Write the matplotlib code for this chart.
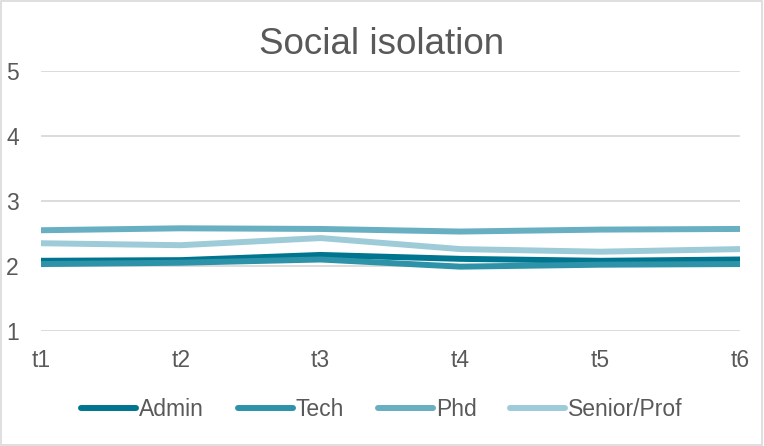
import matplotlib.pyplot as plt
from matplotlib.patches import Rectangle

times = ["t1", "t2", "t3", "t4", "t5", "t6"]
admin = [2.08, 2.09, 2.17, 2.11, 2.08, 2.10]
tech = [2.03, 2.05, 2.10, 1.99, 2.02, 2.03]
phd = [2.55, 2.58, 2.57, 2.53, 2.56, 2.57]
senior = [2.35, 2.32, 2.43, 2.26, 2.22, 2.26]

series = [
    ("Admin", admin, "#00758f"),
    ("Tech", tech, "#2e93a8"),
    ("Phd", phd, "#68afc1"),
    ("Senior/Prof", senior, "#9ecbd8"),
]

plt.rcParams["font.family"] = ["Liberation Sans", "DejaVu Sans"]

fig = plt.figure(figsize=(7.64, 4.46), dpi=100)
ax = fig.add_axes([41 / 764, 1 - 331 / 446, 699 / 764, 260 / 446])

x = range(len(times))
for name, vals, color in series:
    ax.plot(x, vals, color=color, lw=4.3, solid_capstyle="round", label=name)

ax.set_xlim(0, len(times) - 1)
ax.set_ylim(1, 5)
ax.set_yticks([1, 2, 3, 4, 5])
ax.set_xticks(list(x))
ax.set_xticklabels(times)
ax.grid(axis="y", color="#d9d9d9", lw=1.3)
ax.set_axisbelow(True)
for s in ax.spines.values():
    s.set_visible(False)
ax.tick_params(length=0, labelsize=16.5, colors="#595959")
ax.tick_params(axis="y", pad=16)
ax.tick_params(axis="x", pad=13)

fig.text(0.5, 1 - 45 / 446, "Social isolation", ha="center", va="center",
         fontsize=26.5, color="#595959")

fig.legend(loc="center", bbox_to_anchor=(0.5, 1 - 410 / 446), ncol=4,
           frameon=False, fontsize=16.5, labelcolor="#595959",
           handlelength=2.4, handletextpad=0.15, columnspacing=1.45)

fig.patches.append(Rectangle((0.001, 0.002), 0.997, 0.995, transform=fig.transFigure,
                             fill=False, edgecolor="#d9d9d9", lw=1.2))

fig.savefig("out.png", dpi=100)
